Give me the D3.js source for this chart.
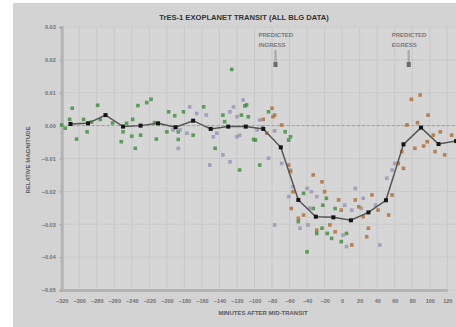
<!DOCTYPE html>
<html><head><meta charset="utf-8">
<script src="https://cdn.jsdelivr.net/npm/d3@7"></script>
<style>
body{margin:0;background:#fff}
svg{display:block}
text{font-family:Arial,"Liberation Sans",sans-serif}
</style>
</head><body>
<svg id="chart" width="456" height="327"></svg>
<script>
// Axis ticks
const xTicks = d3.range(-320, 121, 20);
const yTicks = [0.03, 0.02, 0.01, 0.00, -0.01, -0.02, -0.03, -0.04, -0.05];

// Observer 1 (green): [minutes after mid-transit, relative magnitude]
const greenPts = [
  [-308,0.0053],[-279,0.0062],[-311,0.0019],[-295,0.0019],[-291,-0.0019],[-303,-0.0041],
  [-316,-0.0008],[-320,0.0002],[-286,0.0011],[-276,0.0019],[-250,-0.0019],[-252,-0.0049],
  [-239,0.0019],[-236,-0.0069],[-240,-0.0032],[-233,0.0061],[-223,0.0070],[-218,0.0080],
  [-230,-0.0029],[-214,0.0009],[-212,-0.0041],[-246,0.0007],[-198,0.0042],[-187,-0.0042],
  [-181,0.0042],[-158,0.0057],[-200,-0.0019],[-145,-0.0069],[-117,-0.0135],[-111,0.0060],
  [-136,0.0032],[-107,0.0027],[-101,-0.0042],[-126,0.0171],[-170,-0.0029],[-115,0.0032],
  [-109,0.0063],[-134,0.0012],[-99,-0.0044],[-84,0.0042],[-94,-0.0120],[-65,-0.0019],
  [-61,-0.0044],[-44,-0.0206],[-18,-0.0221],[-33,-0.0252],[-22,-0.0242],[-8,-0.0252],
  [-50,-0.0292],[-23,-0.0312],[-29,-0.0328],[-17,-0.0328],[-12,-0.0343],[-1,-0.0353],
  [-40,-0.0384],[5,-0.0328],[-59,-0.0034],[-187,-0.0019],[-191,0.0030],[-262,0.0008]
];

// Observer 2 (lavender)
const lavenderPts = [
  [-187,-0.0069],[-174,0.0057],[-166,0.0037],[-193,-0.0013],[-177,-0.0023],[-151,-0.0120],
  [-136,-0.0089],[-128,-0.0110],[-124,0.0057],[-120,0.0027],[-117,-0.0029],[-113,0.0078],
  [-128,0.0042],[-147,-0.0034],[-94,0.0017],[-84,-0.0099],[-185,-0.0013],[-97,-0.0013],
  [-155,0.0032],[-143,-0.0023],[-69,-0.0115],[-56,-0.0186],[-61,-0.0216],[-40,-0.0191],
  [-35,-0.0201],[-29,-0.0216],[3,-0.0242],[24,-0.0221],[11,-0.0257],[-77,-0.0302],
  [-39,-0.0302],[1,-0.0333],[5,-0.0368],[43,-0.0363],[15,-0.0191],[51,-0.0160],
  [60,-0.0115],[38,-0.0242],[-91,-0.0004],[-77,-0.0016],[-59,-0.0135],[-37,-0.0251],
  [22,-0.0252],[57,-0.0135],[-48,-0.0312],[-120,-0.0034]
];

// Observer 3 (orange)
const orangePts = [
  [-90,0.0019],[-86,-0.0023],[-77,0.0032],[-69,0.0002],[-80,0.0053],[-79,0.0027],
  [-61,-0.0120],[-59,-0.0140],[-56,-0.0201],[-33,-0.0150],[-23,-0.0171],[-20,-0.0201],
  [-58,-0.0252],[-44,-0.0272],[-50,-0.0282],[-4,-0.0226],[15,-0.0226],[19,-0.0247],
  [-1,-0.0257],[24,-0.0277],[-14,-0.0302],[-8,-0.0323],[11,-0.0363],[28,-0.0338],
  [30,-0.0312],[53,-0.0272],[34,-0.0211],[57,-0.0211],[41,-0.0257],[70,-0.0130],
  [64,-0.0115],[68,-0.0079],[83,-0.0069],[93,-0.0062],[97,-0.0049],[106,-0.0079],
  [117,-0.0089],[104,-0.0029],[112,-0.0019],[125,-0.0029],[74,0.0002],[86,0.0009],
  [79,0.0080],[89,0.0093],[98,0.0032],[-29,-0.0318]
];

// 20-minute binned average of all data
const binMinutes = [-310,-290,-270,-250,-230,-210,-190,-170,-150,-130,-110,-90,
                    -70,-50,-30,-10,10,30,50,70,90,110,130];
const binValues  = [0.0005,0.0007,0.0032,-0.0003,0.0000,0.0007,-0.0005,0.0015,-0.0010,-0.0003,-0.0003,-0.0010,
                    -0.0066,-0.0226,-0.0277,-0.0279,-0.0288,-0.0264,-0.0227,-0.0057,-0.0006,-0.0056,-0.0047];

// Predicted contact times
const events = [
  {label: ["PREDICTED", "INGRESS"], minute: -76},
  {label: ["PREDICTED", "EGRESS"], minute: 76}
];

const W = 456, H = 327;
const plot = {left: 61.7, right: 456, top: 27, bottom: 290};

const svg = d3.select("#chart");

// Background panel
svg.append("rect").attr("x", 13).attr("y", 3).attr("width", W - 13).attr("height", H - 3)
  .attr("fill", "#d3d3d3");
svg.append("rect").attr("x", plot.left).attr("y", plot.top)
  .attr("width", plot.right - plot.left).attr("height", plot.bottom - plot.top)
  .attr("fill", "#d6d6d6");

const x = d3.scaleLinear().domain([-320, 120]).range([61.7, 447.3]);
const y = d3.scaleLinear().domain([-0.05, 0.03]).range([plot.bottom, plot.top]);

// Grid
const grid = svg.append("g");
grid.selectAll("line.v").data(xTicks).join("line")
  .attr("x1", d => x(d)).attr("x2", d => x(d))
  .attr("y1", plot.top).attr("y2", plot.bottom)
  .attr("stroke", "#c8c8c8").attr("stroke-width", 1);
grid.selectAll("line.h").data(yTicks).join("line")
  .attr("x1", plot.left).attr("x2", plot.right)
  .attr("y1", d => y(d)).attr("y2", d => y(d))
  .attr("stroke", "#cacaca").attr("stroke-width", 1);

// Baseline at zero
svg.append("line")
  .attr("x1", plot.left).attr("x2", plot.right)
  .attr("y1", y(0)).attr("y2", y(0))
  .attr("stroke", "#9e9e9e").attr("stroke-width", 1)
  .attr("stroke-dasharray", "3,2");

// Axes
const yAxis = svg.append("g").attr("transform", `translate(${plot.left},0)`)
  .call(d3.axisLeft(y).tickValues(yTicks).tickFormat(d3.format(".2f")).tickSize(2).tickPadding(4));
const xAxis = svg.append("g").attr("transform", `translate(0,${plot.bottom})`)
  .call(d3.axisBottom(x).tickValues(xTicks).tickSize(0).tickPadding(9));
[yAxis, xAxis].forEach(a => {
  a.select(".domain").attr("stroke", "#b4b4b4").attr("stroke-width", 3);
  a.selectAll(".tick line").attr("stroke", "#a0a0a0");
  a.selectAll("text").attr("fill", "#707070").attr("font-size", 5.5).attr("font-weight", "bold")
    .attr("font-family", "Arial, 'Liberation Sans', sans-serif");
});

// Scatter points
const size = 3.6;
function scatter(pts, color) {
  svg.append("g").selectAll("rect").data(pts).join("rect")
    .attr("x", d => x(d[0]) - size / 2).attr("y", d => y(d[1]) - size / 2)
    .attr("width", size).attr("height", size)
    .attr("fill", color).attr("fill-opacity", 0.8);
}
scatter(greenPts, "#3f8c3f");
scatter(lavenderPts, "#9593b3");
scatter(orangePts, "#ab6d34");

// Binned average line
const bins = binMinutes.map((m, i) => [m, binValues[i]]);
svg.append("path").datum(bins)
  .attr("d", d3.line().x(d => x(d[0])).y(d => y(d[1])))
  .attr("fill", "none").attr("stroke", "#555").attr("stroke-width", 1.5);
svg.append("g").selectAll("rect").data(bins).join("rect")
  .attr("x", d => x(d[0]) - 2).attr("y", d => y(d[1]) - 2)
  .attr("width", 4).attr("height", 4).attr("fill", "#151515");

// Predicted ingress / egress markers
const ev = svg.append("g").selectAll("g").data(events).join("g")
  .attr("transform", d => `translate(${x(d.minute)},0)`);
ev.append("line").attr("x1", 0).attr("x2", 0).attr("y1", 50).attr("y2", 64)
  .attr("stroke", "#adadad").attr("stroke-width", 2.5);
ev.append("path").attr("d", "M-2,62 L2,62 L2,67 L-2,67 Z").attr("fill", "#6a6a6a");
ev.each(function(d) {
  const g = d3.select(this);
  d.label.forEach((t, i) => {
    g.append("text").attr("x", -17).attr("y", 37 + i * 10).text(t)
      .attr("font-size", 6).attr("font-weight", "bold").attr("fill", "#7a7a7a");
  });
});

// Titles
svg.append("text").attr("x", 244).attr("y", 20).attr("text-anchor", "middle")
  .attr("font-size", 7.6).attr("font-weight", "bold").attr("fill", "#333")
  .text("TrES-1 EXOPLANET TRANSIT (ALL BLG DATA)");
svg.append("text").attr("x", 263).attr("y", 315).attr("text-anchor", "middle")
  .attr("font-size", 6).attr("font-weight", "bold").attr("fill", "#5a5a5a")
  .text("MINUTES AFTER MID-TRANSIT");
svg.append("text").attr("transform", "translate(30,160) rotate(-90)")
  .attr("text-anchor", "middle")
  .attr("font-size", 6).attr("font-weight", "bold").attr("fill", "#5a5a5a")
  .text("RELATIVE MAGNITUDE");
</script>
</body></html>
